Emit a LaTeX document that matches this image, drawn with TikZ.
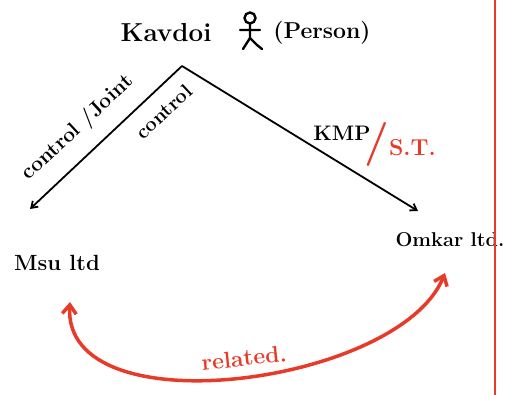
\documentclass[tikz,border=0pt]{standalone}
\usepackage{fontspec}
\usetikzlibrary{arrows.meta}
\definecolor{penred}{RGB}{232,58,40}
\tikzset{
  hand/.style={font=\fontsize{#1}{#1}\selectfont\bfseries, inner sep=0pt},
  ink/.style={line width=1.8pt, -{Straight Barb[length=6pt,width=8pt]}},
  redink/.style={penred, line width=3.5pt, line cap=round,
     {Straight Barb[length=9pt,width=14pt]}-{Straight Barb[length=9pt,width=14pt]}},
}
\begin{document}
\begin{tikzpicture}[x=1pt,y=-1pt]
\useasboundingbox (0,0) rectangle (519,395);
% title
\node[hand=26] (kav) at (166,33) {Kavdoi};
\node[hand=23] (per) at (322,33) {(Person)};
% stick figure icon
\begin{scope}[line width=2.4pt, line cap=round]
  \draw (250,18) circle (5.5);
  \draw (250,24) -- (250,38) (240,30) -- (260,30)
        (250,38) -- (243,49) (250,38) -- (257,45) -- (262,49);
\end{scope}
% nodes
\coordinate (apex) at (182,66);
\node[hand=22] (msu) at (57,263) {Msu ltd};
\node[hand=20] (omk) at (450,240) {Omkar ltd.};
\coordinate (msuin) at (30,209);
\coordinate (omkin) at (418,211);
% connectors
\draw[ink] (apex) -- (msuin);
\draw[ink] (apex) -- (omkin);
\node[hand=21, rotate=43] (lab1) at (78,128) {control /Joint};
\node[hand=20, rotate=43] (lab2) at (164,112) {control};
\node[hand=21] (kmp) at (342,133) {KMP};
\node[hand=23, text=penred] (st) at (400,145) {{\fontsize{44}{44}\selectfont/}S.T.};
% related arrow
\coordinate (omkout) at (445,273);
\coordinate (msuout) at (70,302);
\draw[redink] (msuout) .. controls (62,430) and (400,385) .. (omkout);
\node[hand=23, text=penred, rotate=6] (rel) at (244,358) {related.};
% red margin line
\coordinate (mtop) at (495,0);
\coordinate (mbot) at (495,395);
\draw[penred, line width=2.5pt] (mtop) -- (mbot);
\end{tikzpicture}
\end{document}
